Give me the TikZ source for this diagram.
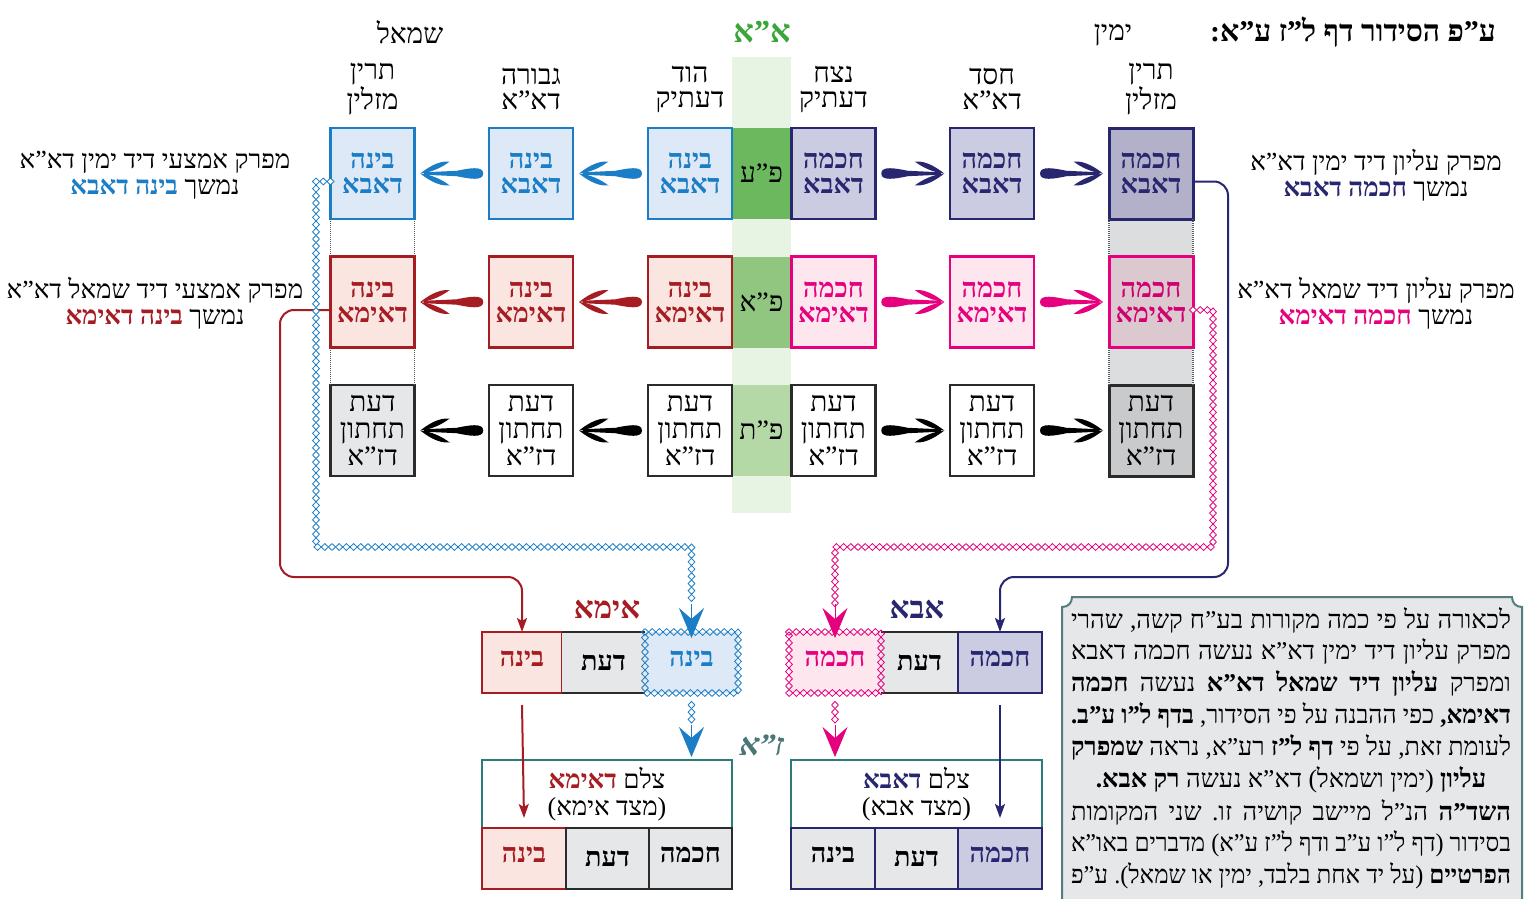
\documentclass[tikz,border=0pt]{standalone}
\usepackage{fontspec}
\usepackage{graphicx}
\setmainfont{Liberation Serif}[Script=Hebrew]
\TeXXeTstate=1
\frenchspacing
\usetikzlibrary{arrows.meta,decorations.markings,calc}
\newcommand\rl[1]{\beginR#1\endR}
\newcommand\jl[1]{\setbox0\hbox{\beginR#1\endR}\ifdim\wd0>440pt \resizebox{440pt}{\height}{\box0}\else\hbox to 440pt{\beginR#1\endR}\fi}
\newcommand\cl[1]{\hbox to 440pt{\hfil\beginR#1\endR\hfil}}
\definecolor{cBlue}{HTML}{1A7DC5}
\definecolor{cBlueF}{HTML}{DDE9F6}
\definecolor{cNavy}{HTML}{27266F}
\definecolor{cNavyF}{HTML}{CBCBE2}
\definecolor{cNavyD}{HTML}{B2B1C9}
\definecolor{cRed}{HTML}{A51D23}
\definecolor{cRedF}{HTML}{FBE5E0}
\definecolor{cPink}{HTML}{E5007D}
\definecolor{cPinkT}{HTML}{D1006F}
\definecolor{cPinkF}{HTML}{FDE6EE}
\definecolor{cPinkD}{HTML}{DCC9D0}
\definecolor{cGray}{HTML}{E6E7E8}
\definecolor{cGrayD}{HTML}{C9CACC}
\definecolor{cGrayM}{HTML}{DCDDDF}
\definecolor{cBand}{HTML}{E7F3E3}
\definecolor{cGa}{HTML}{6BB85F}
\definecolor{cGb}{HTML}{90C680}
\definecolor{cGc}{HTML}{B4D8A6}
\definecolor{cGreenT}{HTML}{3AA63A}
\definecolor{cTeal}{HTML}{2A7C78}
\definecolor{cZa}{HTML}{4B7677}
\definecolor{cFrame}{HTML}{557D7D}
\definecolor{cDark}{HTML}{2B2B2B}
\newcommand\bfnt{\fontsize{27}{25}\selectfont\bfseries}
\newcommand\nfnt{\fontsize{28}{27}\selectfont}
\newcommand\hfnt{\fontsize{28}{25}\selectfont}
\newcommand\sfnt{\fontsize{26}{26}\selectfont}
\newcommand\tfnt{\fontsize{25.5}{24}\selectfont}
\tikzset{
  every node/.style={inner sep=0pt, outer sep=0pt},
  box/.style={draw, line width=2.2pt, minimum width=84pt, minimum height=91pt, align=center, font=\bfnt},
  boxB/.style={box, draw=cBlue, fill=cBlueF, text=cBlue},
  boxN/.style={box, draw=cNavy, fill=cNavyF, text=cNavy},
  boxR/.style={box, draw=cRed, fill=cRedF, text=cRed},
  boxP/.style={box, draw=cPink, fill=cPinkF, text=cPink},
  boxK/.style={box, draw=cDark, fill=white, text=black, font=\nfnt},
  gcell/.style={minimum width=59pt, minimum height=91pt, font=\nfnt},
  hdr/.style={font=\hfnt, align=center},
  side/.style={font=\sfnt, align=center},
  leaf/.pic={
    \fill (-31.5,0) .. controls (-31.5,-8) and (-17,-5.2) .. (-5,-2.7) -- (28,-1.2) -- (28,1.2) -- (-5,2.7) .. controls (-17,5.2) and (-31.5,8) .. (-31.5,0) -- cycle;
    \fill (31.5,0) .. controls (25,-5) and (14,-13) .. (2,-12) .. controls (10,-6) and (20,-1.2) .. (31.5,0) -- cycle;
    \fill (31.5,0) .. controls (25,5) and (14,13) .. (2,12) .. controls (10,6) and (20,1.2) .. (31.5,0) -- cycle;
  },
  chain/.style={decorate, decoration={markings, mark=between positions 0 and 1 step 7.2pt with {\draw[draw=#1, line width=0.8pt, fill=white] (-3.6,0) -- (0,3.4) -- (3.6,0) -- (0,-3.4) -- cycle;}}},
  chainbox/.style={decorate, decoration={markings, mark=between positions 0 and 1 step 7.2pt with {\draw[draw=#1, line width=0.8pt] (-3.6,0) -- (0,3.4) -- (3.6,0) -- (0,-3.4) -- cycle;}}},
  sep/.style={draw=gray!70!black, line width=1.8pt, dash pattern=on 1pt off 1pt},
  mcell/.style={minimum height=61pt, align=center, font=\bfnt},
  bigtip/.style={-{Stealth[length=30pt, width=25pt, inset=11pt]}, line width=0.6pt},
  thintip/.style={-{Stealth[length=14pt, width=10pt, inset=3pt]}, line width=2pt},
}
\begin{document}
\begin{tikzpicture}[x=1pt,y=-1pt]
\clip (0,0) rectangle (1527,899);
\fill[white] (0,0) rectangle (1527,899);
% green band
\fill[cBand] (732,57) rectangle (791,513);
% headers
\node[font=\fontsize{30}{30}\selectfont\bfseries] (title) at (1353,32) {\rl{ע"פ הסידור דף ל"ז ע"א:}};
\node[hdr] (hY) at (1113,35) {\rl{ימין}};
\node[font=\fontsize{32}{32}\selectfont\bfseries, text=cGreenT] (hAA) at (762,32) {\rl{א"א}};
\node[hdr] (hS) at (410,32) {\rl{שמאל}};
\node[hdr] (h1) at (372.5,89) {\rl{תרין}\\\rl{מזלין}};
\node[hdr] (h2) at (531,89) {\rl{גבורה}\\\rl{דא"א}};
\node[hdr] (h3) at (690,89) {\rl{הוד}\\\rl{דעתיק}};
\node[hdr] (h4) at (833.5,89) {\rl{נצח}\\\rl{דעתיק}};
\node[hdr] (h5) at (992,89) {\rl{חסד}\\\rl{דא"א}};
\node[hdr] (h6) at (1151,89) {\rl{תרין}\\\rl{מזלין}};
% green cells
\node[gcell, fill=cGa] (g1) at (761.5,173.5) {\rl{פ"ע}};
\node[gcell, fill=cGb] (g2) at (761.5,302) {\rl{פ"א}};
\node[gcell, fill=cGc] (g3) at (761.5,430.5) {\rl{פ"ת}};
% gaps between rows (outer columns)
\fill[cGrayM] (1110,219) rectangle (1192,257);
\fill[cGrayM] (1110,347) rectangle (1192,385);
% row 1
\node[boxB] (b11) at (372.5,173.5) {\rl{בינה}\\\rl{דאבא}};
\node[boxB] (b12) at (531,173.5) {\rl{בינה}\\\rl{דאבא}};
\node[boxB] (b13) at (690,173.5) {\rl{בינה}\\\rl{דאבא}};
\node[boxN] (b14) at (833.5,173.5) {\rl{חכמה}\\\rl{דאבא}};
\node[boxN] (b15) at (992,173.5) {\rl{חכמה}\\\rl{דאבא}};
\node[boxN, fill=cNavyD, line width=3pt] (b16) at (1151,173.5) {\rl{חכמה}\\\rl{דאבא}};
% row 2
\node[boxR] (b21) at (372.5,302) {\rl{בינה}\\\rl{דאימא}};
\node[boxR] (b22) at (531,302) {\rl{בינה}\\\rl{דאימא}};
\node[boxR] (b23) at (690,302) {\rl{בינה}\\\rl{דאימא}};
\node[boxP] (b24) at (833.5,302) {\rl{חכמה}\\\rl{דאימא}};
\node[boxP] (b25) at (992,302) {\rl{חכמה}\\\rl{דאימא}};
\node[boxP, fill=cPinkD, text=cPinkT, line width=3pt] (b26) at (1151,302) {\rl{חכמה}\\\rl{דאימא}};
% row 3
\node[boxK, fill=cGray] (b31) at (372.5,430.5) {\rl{דעת}\\\rl{תחתון}\\\rl{דז"א}};
\node[boxK] (b32) at (531,430.5) {\rl{דעת}\\\rl{תחתון}\\\rl{דז"א}};
\node[boxK] (b33) at (690,430.5) {\rl{דעת}\\\rl{תחתון}\\\rl{דז"א}};
\node[boxK] (b34) at (833.5,430.5) {\rl{דעת}\\\rl{תחתון}\\\rl{דז"א}};
\node[boxK] (b35) at (992,430.5) {\rl{דעת}\\\rl{תחתון}\\\rl{דז"א}};
\node[boxK, fill=cGrayD, line width=3pt] (b36) at (1151,430.5) {\rl{דעת}\\\rl{תחתון}\\\rl{דז"א}};
% dotted separators
\draw[sep] (b11.south west) -- (b21.north west);
\draw[sep] (b11.south east) -- (b21.north east);
\draw[sep] (b21.south west) -- (b31.north west);
\draw[sep] (b21.south east) -- (b31.north east);
\draw[sep] (b16.south west) -- (b26.north west);
\draw[sep] (b16.south east) -- (b26.north east);
\draw[sep] (b26.south west) -- (b36.north west);
\draw[sep] (b26.south east) -- (b36.north east);
% leaf arrows
\pic[color=cBlue, rotate=180] at ($(b13.west)!0.5!(b12.east)$) {leaf};
\pic[color=cBlue, rotate=180] at ($(b12.west)!0.5!(b11.east)$) {leaf};
\pic[color=cNavy] at ($(b14.east)!0.5!(b15.west)$) {leaf};
\pic[color=cNavy] at ($(b15.east)!0.5!(b16.west)$) {leaf};
\pic[color=cRed, rotate=180] at ($(b23.west)!0.5!(b22.east)$) {leaf};
\pic[color=cRed, rotate=180] at ($(b22.west)!0.5!(b21.east)$) {leaf};
\pic[color=cPink] at ($(b24.east)!0.5!(b25.west)$) {leaf};
\pic[color=cPink] at ($(b25.east)!0.5!(b26.west)$) {leaf};
\pic[color=black, rotate=180] at ($(b33.west)!0.5!(b32.east)$) {leaf};
\pic[color=black, rotate=180] at ($(b32.west)!0.5!(b31.east)$) {leaf};
\pic[color=black] at ($(b34.east)!0.5!(b35.west)$) {leaf};
\pic[color=black] at ($(b35.east)!0.5!(b36.west)$) {leaf};
% side labels
\node[side] (sR1) at (1376,175) {\rl{מפרק עליון דיד ימין דא"א}\\{\bfseries\color{cNavy}\rl{חכמה דאבא}} \rl{נמשך}};
\node[side] (sR2) at (1376,303) {\rl{מפרק עליון דיד שמאל דא"א}\\{\bfseries\color{cPink}\rl{חכמה דאימא}} \rl{נמשך}};
\node[side] (sL1) at (155,175) {\rl{מפרק אמצעי דיד ימין דא"א}\\{\bfseries\color{cBlue}\rl{בינה דאבא}} \rl{נמשך}};
\node[side] (sL2) at (155,303) {\rl{מפרק אמצעי דיד שמאל דא"א}\\{\bfseries\color{cRed}\rl{בינה דאימא}} \rl{נמשך}};
% middle row (Ima / Abba)
\node[font=\fontsize{31}{31}\selectfont\bfseries, text=cRed] (lIma) at (607,610) {\rl{אימא}};
\node[font=\fontsize{31}{31}\selectfont\bfseries, text=cNavy] (lAbba) at (917,610) {\rl{אבא}};
\node[mcell, minimum width=80pt, draw=cRed, line width=2pt, fill=cRedF, text=cRed] (imaB) at (522,662.5) {\raisebox{7pt}{\rl{בינה}}};
\node[mcell, minimum width=83pt, fill=cGray] (imaD) at (603.5,662.5) {\raisebox{-6pt}{\rl{דעת}}};
\node[mcell, minimum width=93pt, fill=cBlueF, text=cBlue] (imaC) at (691.5,662.5) {\raisebox{7pt}{\rl{בינה}}};
\node[mcell, minimum width=92pt, fill=cPinkF, text=cPink] (abC) at (835,662.5) {\raisebox{7pt}{\rl{חכמה}}};
\node[mcell, minimum width=77pt, fill=cGray] (abD) at (919.5,662.5) {\raisebox{-6pt}{\rl{דעת}}};
\node[mcell, minimum width=84pt, draw=cNavy, line width=2pt, fill=cNavyF, text=cNavy] (abH) at (1000,662.5) {\raisebox{7pt}{\rl{חכמה}}};
\draw[cDark, line width=2pt] (imaD.north west) -- (imaD.north east);
\draw[cDark, line width=2pt] (imaD.south west) -- (imaD.south east);
\draw[cDark, line width=2pt] (abD.north west) -- (abD.north east);
\draw[cDark, line width=2pt] (abD.south west) -- (abD.south east);
\draw[chainbox=cBlue] (imaC.north west) -- (imaC.north east) -- (imaC.south east) -- (imaC.south west) -- cycle;
\draw[chainbox=cPink] (abC.north west) -- (abC.north east) -- (abC.south east) -- (abC.south west) -- cycle;
% bottom tzelem boxes
\node[draw=cTeal, line width=2pt, minimum width=250pt, minimum height=68pt, align=center, font=\fontsize{26}{27}\selectfont] (tzI) at (607,794)
  {{\bfseries\color{cRed}\rl{דאימא}} \rl{צלם}\\\rl{(מצד אימא)}};
\node[draw=cTeal, line width=2pt, minimum width=251pt, minimum height=68pt, align=center, font=\fontsize{26}{27}\selectfont] (tzA) at (916.5,794)
  {{\bfseries\color{cNavy}\rl{דאבא}} \rl{צלם}\\\rl{(מצד אבא)}};
\node[mcell, minimum width=84pt, draw=cRed, line width=2pt, fill=cRedF, text=cRed] (zB) at (524,858.5) {\raisebox{8pt}{\rl{בינה}}};
\node[mcell, minimum width=83pt, draw=cDark, line width=2pt, fill=cGray] (zD) at (607.5,858.5) {\raisebox{-5pt}{\rl{דעת}}};
\node[mcell, minimum width=83pt, draw=cDark, line width=2pt, fill=cGray] (zH) at (690.5,858.5) {\raisebox{8pt}{\rl{חכמה}}};
\node[mcell, minimum width=84pt, draw=cNavy, line width=2pt, fill=cGray] (aB) at (833,858.5) {\raisebox{8pt}{\rl{בינה}}};
\node[mcell, minimum width=83pt, draw=cNavy, line width=2pt, fill=cGray] (aD) at (916.5,858.5) {\raisebox{-5pt}{\rl{דעת}}};
\node[mcell, minimum width=84pt, draw=cNavy, line width=2pt, fill=cNavyF, text=cNavy] (aH) at (1000,858.5) {\raisebox{8pt}{\rl{חכמה}}};
\node[font=\fontsize{31}{31}\selectfont\bfseries, text=cZa, xslant=0.2] (za) at (762,745) {\rl{ז"א}};
% long connectors
\coordinate (nvC) at (1228,577);
\coordinate (rdC) at (280,577);
\coordinate (blC) at (316,547);
\coordinate (pkC) at (1213,547);
\coordinate (blA) at (691.5,604);
\coordinate (pkA) at (835,604);
\draw[cNavy, thintip, rounded corners=14pt] ([yshift=-8pt]b16.east) -| (nvC) -| (abH.north);
\draw[cRed, thintip, rounded corners=14pt] ([yshift=-8pt]b21.west) -| (rdC) -| (imaB.north);
\draw[chain=cBlue] ([yshift=-8pt]b11.west) -| (blC) -| (blA);
\draw[chain=cPink] ([yshift=-8pt]b26.east) -| (pkC) -| (pkA);
\draw[cBlue, bigtip] (blA) -- ([yshift=-6pt]imaC.north);
\draw[cPink, bigtip] (pkA) -- ([yshift=-6pt]abC.north);
% middle to bottom
\coordinate (blB) at (691.5,725);
\coordinate (pkB) at (835,725);
\draw[cRed, thintip] ([yshift=-12pt]imaB.south) -- ([yshift=10pt]zB.north);
\draw[cNavy, thintip] ([yshift=-12pt]abH.south) -- ([yshift=10pt]aH.north);
\draw[chain=cBlue] ([yshift=-12pt]imaC.south) -- (blB);
\draw[chain=cPink] ([yshift=-12pt]abC.south) -- (pkB);
\draw[cBlue, bigtip] (blB) -- ([yshift=3pt]imaC.south |- tzI.north);
\draw[cPink, bigtip] (pkB) -- ([yshift=3pt]abC.south |- tzA.north);
% text box
\path[fill=cGray, draw=cFrame, line width=2pt] (1062,910) -- (1062,607) .. controls (1068,607) and (1072,603) .. (1072,597) -- (1512,597) .. controls (1512,603) and (1516,607) .. (1522,607) -- (1522,910);
\begin{scope}[every node/.style={font=\tfnt, inner sep=0pt}]
\node (t1) at (1291,620) {\jl{לכאורה על פי כמה מקורות בע"ח קשה, שהרי}};
\node (t2) at (1291,652) {\jl{מפרק עליון דיד ימין דא"א נעשה חכמה דאבא}};
\node (t3) at (1291,684) {\jl{ומפרק \textbf{עליון דיד שמאל דא"א} נעשה \textbf{חכמה}}};
\node (t4) at (1291,716) {\jl{\textbf{דאימא,} כפי ההבנה על פי הסידור, \textbf{בדף ל"ו ע"ב.}}};
\node (t5) at (1291,748) {\jl{לעומת זאת, על פי \textbf{דף ל"ז} רע"א, נראה \textbf{שמפרק}}};
\node (t6) at (1291,780) {\cl{\textbf{עליון} (ימין ושמאל) דא"א נעשה \textbf{רק אבא.}}};
\node (t7) at (1291,812) {\jl{\textbf{השד"ה} הנ"ל מיישב קושיה זו. שני המקומות}};
\node (t8) at (1291,844) {\jl{בסידור (דף ל"ו ע"ב ודף ל"ז ע"א) מדברים באו"א}};
\node (t9) at (1291,876) {\jl{\textbf{הפרטיים} (על יד אחת בלבד, ימין או שמאל). ע"פ}};
\end{scope}
\end{tikzpicture}
\end{document}
